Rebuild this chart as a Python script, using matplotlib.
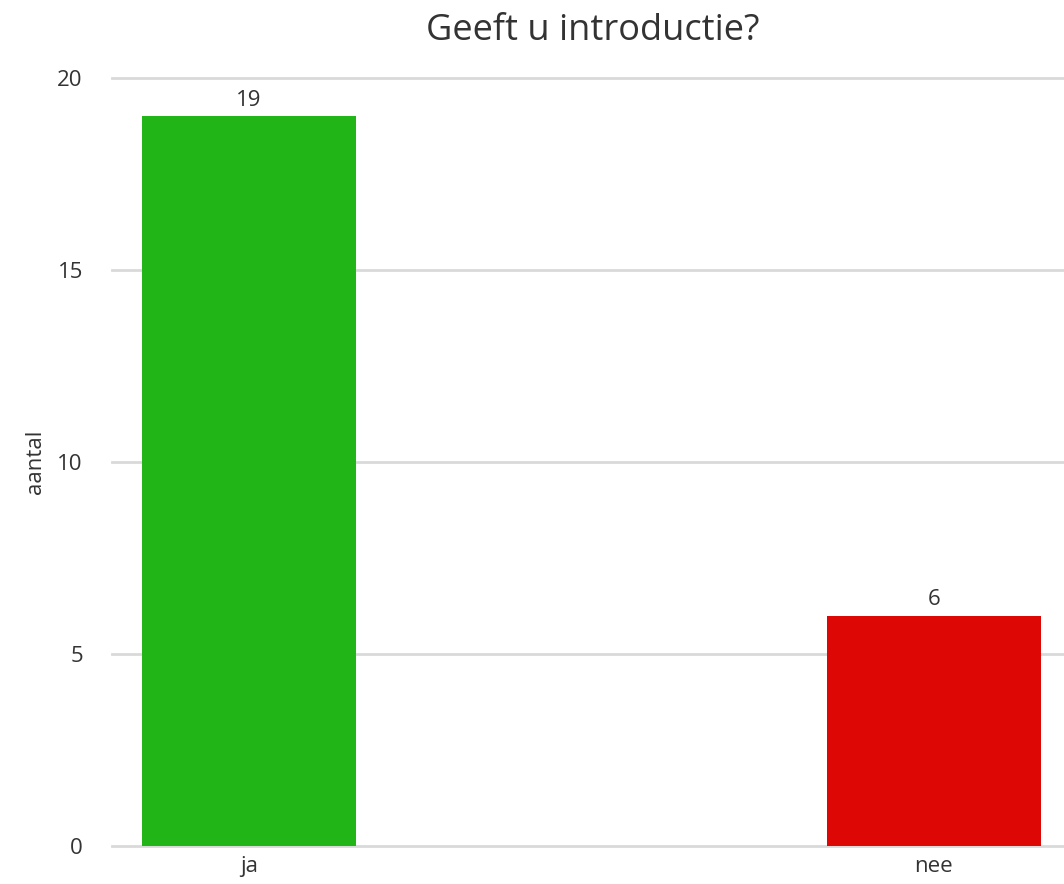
import matplotlib.pyplot as plt

# survey answers
categories = ['ja', 'nee']
counts = [19, 6]
bar_colors = ['#21b518', '#dd0806']

txt = '#333333'
plt.rcParams['font.family'] = ['Open Sans', 'DejaVu Sans']

fig = plt.figure(figsize=(10.64, 8.84), dpi=100)
ax = fig.add_axes([0.1053, 0.0430, 0.8947, 0.8688])

x = list(range(len(categories)))
bars = ax.bar(x, counts, width=0.3125, color=bar_colors, zorder=3)
for b, v in zip(bars, counts):
    ax.annotate(str(v), (b.get_x() + b.get_width() / 2, v), xytext=(0, 4),
                textcoords='offset points', ha='center', va='bottom',
                fontsize=16, color=txt)

ax.set_xlim(-0.2, 1.19)
ax.set_ylim(0, 20)
ax.set_yticks([0, 5, 10, 15, 20])
ax.set_xticks(x)
ax.set_xticklabels(categories)
ax.tick_params(length=0, labelsize=16, colors=txt)
ax.tick_params(axis='y', pad=21)
ax.tick_params(axis='x', pad=7)
ax.yaxis.grid(True, color='#d9d9d9', linewidth=2, zorder=0)
for gl in ax.get_ygridlines():
    gl.set_clip_on(False)
ax.set_axisbelow(True)
for s in ax.spines.values():
    s.set_visible(False)
ax.set_ylabel('aantal', fontsize=16, color=txt, labelpad=8)
fig.text(0.557, 0.965, 'Geeft u introductie?', ha='center', va='center',
         fontsize=26, color=txt)

fig.savefig('out.png', dpi=100)
